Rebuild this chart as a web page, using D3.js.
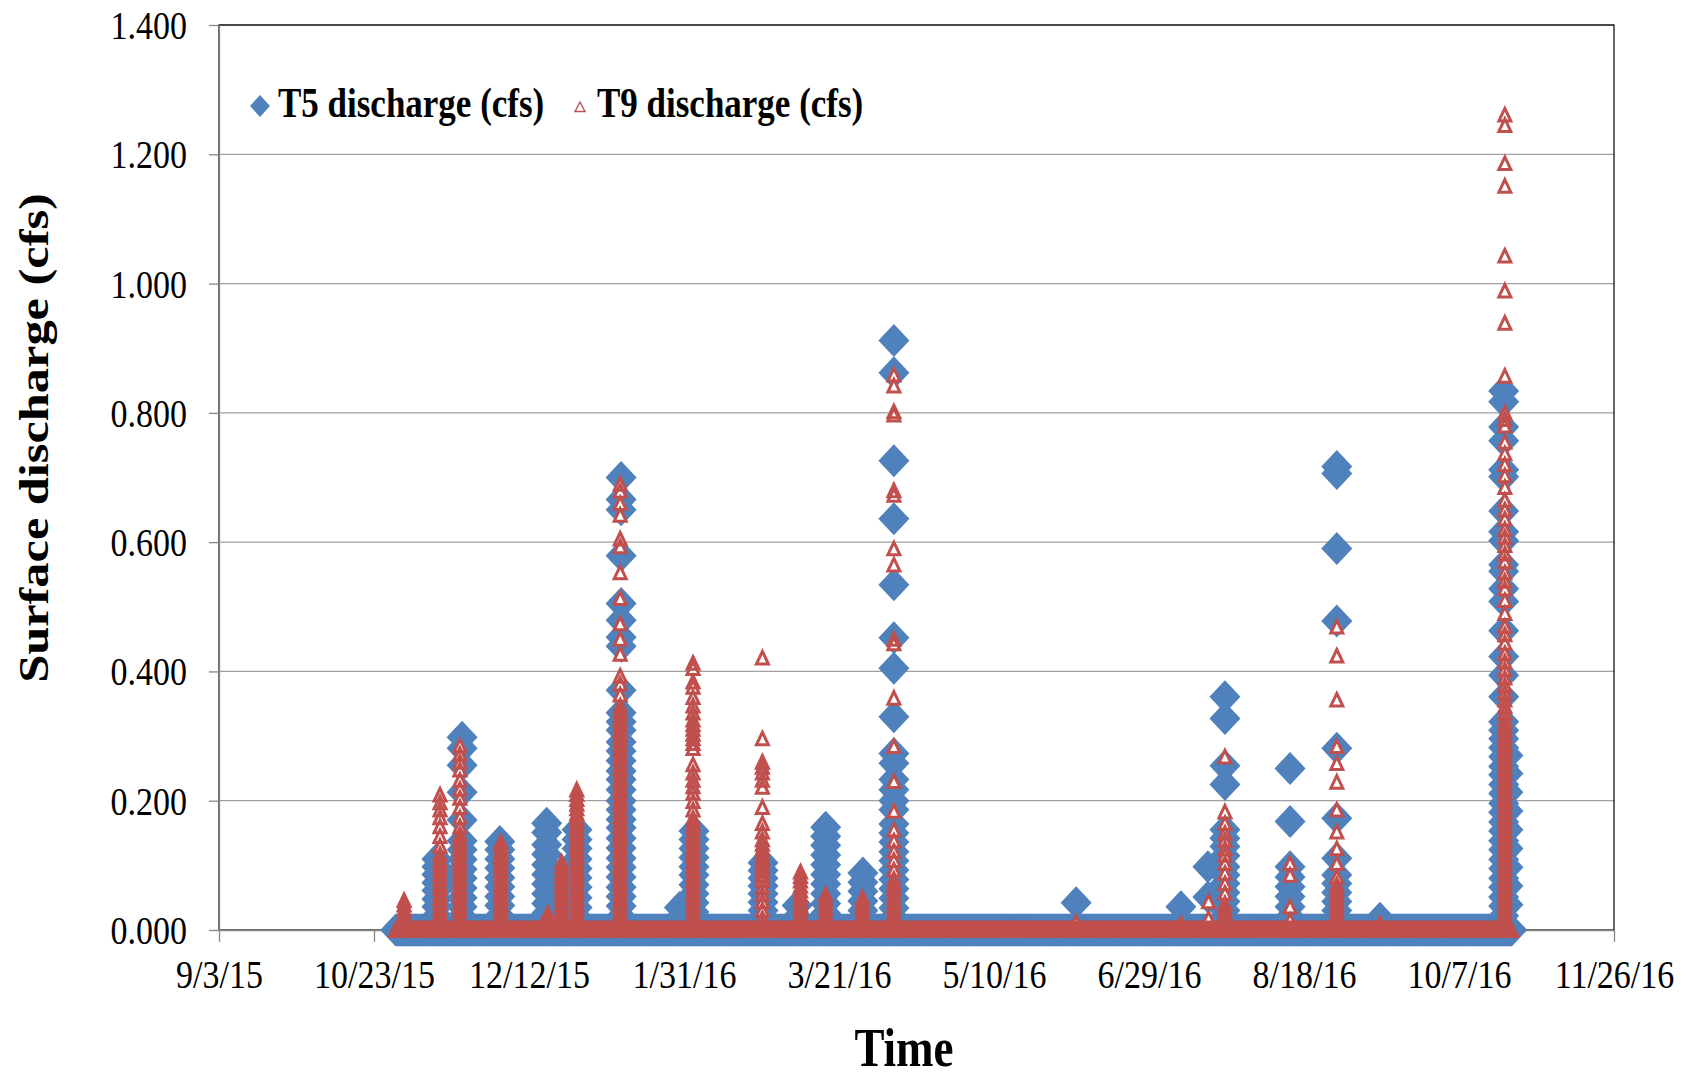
<!DOCTYPE html>
<head>
    <meta charset="utf-8">
    <title>Surface discharge T5 / T9</title>
    <style>
        body { margin: 0; background: #fff; }
        text { font-family: "Liberation Serif", "Times New Roman", serif; fill: #000; }
    </style>
</head>

<script src="https://d3js.org/d3.v7.min.js"></script>

<div id="my_dataviz"></div>

<script>

    // axis ticks
    var xTickLabels = ["9/3/15", "10/23/15", "12/12/15", "1/31/16", "3/21/16",
                       "5/10/16", "6/29/16", "8/18/16", "10/7/16", "11/26/16"];
    var yTickValues = [0, 0.2, 0.4, 0.6, 0.8, 1.0, 1.2, 1.4];

    // logger record: both flumes sit at 0 cfs between storms
    var recordStart = "2015-10-30T00",
        recordEnd = "2016-10-24T00",
        baseDischarge = 0;

    // storm readings: [time, values (cfs)]
    var t5Storms = [
        ["2015-11-12T07", [0.11, 0.098, 0.086, 0.073, 0.061, 0.048, 0.036, 0.022, 0.01]],
        ["2015-11-20T10", [0.298, 0.281, 0.255, 0.213, 0.17, 0.138, 0.124, 0.109, 0.094, 0.08, 0.065, 0.05, 0.036, 0.021]],
        ["2015-12-02T14", [0.137, 0.124, 0.11, 0.096, 0.081, 0.067, 0.052, 0.038, 0.022]],
        ["2015-12-17T17", [0.165, 0.151, 0.132, 0.117, 0.101, 0.086, 0.071, 0.056, 0.041, 0.026, 0.012]],
        ["2015-12-27T12", [0.155, 0.14, 0.126, 0.11, 0.095, 0.081, 0.066, 0.05, 0.035, 0.02]],
        ["2016-01-10T17", [0.7, 0.666, 0.65, 0.579, 0.505, 0.479, 0.453, 0.439, 0.371, 0.336, 0.322, 0.309, 0.291, 0.277,
                           0.262, 0.246, 0.233, 0.217, 0.2, 0.186, 0.171, 0.158, 0.142, 0.127, 0.111, 0.097, 0.082,
                           0.066, 0.052, 0.037, 0.021]],
        ["2016-01-29T12", [0.035, 0.018]],
        ["2016-02-03T05", [0.153, 0.14, 0.126, 0.112, 0.098, 0.085, 0.07, 0.056, 0.042, 0.028, 0.014]],
        ["2016-02-25T12", [0.104, 0.092, 0.08, 0.068, 0.056, 0.043, 0.03, 0.016]],
        ["2016-03-07T12", [0.038, 0.02]],
        ["2016-03-16T17", [0.159, 0.145, 0.131, 0.116, 0.101, 0.086, 0.071, 0.056, 0.041, 0.026, 0.012]],
        ["2016-03-28T17", [0.088, 0.074, 0.06, 0.045, 0.03, 0.015]],
        ["2016-04-07T17", [0.912, 0.862, 0.726, 0.636, 0.534, 0.452, 0.405, 0.33, 0.273, 0.258, 0.233, 0.217, 0.2,
                           0.186, 0.164, 0.15, 0.136, 0.121, 0.107, 0.093, 0.078, 0.064, 0.049, 0.034, 0.019]],
        ["2016-06-05T12", [0.042]],
        ["2016-07-09T07", [0.036]],
        ["2016-07-18T00", [0.098, 0.051]],
        ["2016-07-23T12", [0.361, 0.327, 0.254, 0.225, 0.155, 0.142, 0.129, 0.115, 0.098, 0.085, 0.072, 0.058, 0.044, 0.03, 0.015]],
        ["2016-08-13T12", [0.25, 0.168, 0.098, 0.082, 0.067, 0.052, 0.036, 0.02]],
        ["2016-08-28T14", [0.717, 0.706, 0.59, 0.478, 0.281, 0.173, 0.111, 0.085, 0.072, 0.058, 0.044, 0.03, 0.015]],
        ["2016-09-11T12", [0.018]],
        ["2016-10-21T10", [0.834, 0.817, 0.778, 0.757, 0.712, 0.701, 0.648, 0.616, 0.602, 0.565, 0.555, 0.528, 0.508,
                           0.463, 0.423, 0.394, 0.361, 0.322, 0.309, 0.296, 0.282, 0.268, 0.253, 0.24, 0.225, 0.211,
                           0.196, 0.182, 0.167, 0.153, 0.138, 0.124, 0.109, 0.095, 0.08, 0.066, 0.051, 0.037, 0.022]],
        ["2016-10-22T19", [0.27, 0.242, 0.213, 0.184, 0.155, 0.126, 0.097, 0.068, 0.039]]
    ];

    var t9Storms = [
        ["2015-11-01T17", [0.046, 0.039, 0.032, 0.025, 0.018, 0.011, 0.005]],
        ["2015-11-13T07", [0.209, 0.197, 0.186, 0.174, 0.16, 0.145, 0.13, 0.117, 0.108, 0.101, 0.093, 0.086, 0.079,
                           0.071, 0.064, 0.056, 0.049, 0.042, 0.034, 0.027, 0.02, 0.012, 0.005]],
        ["2015-11-19T17", [0.285, 0.272, 0.26, 0.248, 0.232, 0.218, 0.204, 0.19, 0.174, 0.16, 0.148, 0.14, 0.132, 0.125,
                           0.118, 0.11, 0.103, 0.096, 0.088, 0.081, 0.074, 0.066, 0.059, 0.052, 0.044, 0.037, 0.03,
                           0.022, 0.015, 0.008]],
        ["2015-12-02T22", [0.136, 0.129, 0.121, 0.114, 0.107, 0.1, 0.092, 0.085, 0.078, 0.07, 0.063, 0.056, 0.049,
                           0.041, 0.034, 0.027, 0.019, 0.012, 0.005]],
        ["2015-12-18T02", [0.026, 0.018, 0.01]],
        ["2015-12-22T12", [0.105, 0.098, 0.09, 0.083, 0.076, 0.068, 0.061, 0.054, 0.047, 0.039, 0.032, 0.025, 0.017, 0.01]],
        ["2015-12-27T10", [0.217, 0.21, 0.202, 0.195, 0.188, 0.18, 0.173, 0.166, 0.158, 0.151, 0.144, 0.136, 0.129,
                           0.122, 0.114, 0.107, 0.1, 0.092, 0.085, 0.078, 0.07, 0.063, 0.056, 0.048, 0.041, 0.034,
                           0.026, 0.019, 0.012, 0.005]],
        ["2016-01-10T10", [0.69, 0.679, 0.66, 0.642, 0.605, 0.593, 0.553, 0.513, 0.474, 0.45, 0.427, 0.393, 0.381,
                           0.364, 0.347, 0.339, 0.332, 0.324, 0.317, 0.309, 0.302, 0.295, 0.287, 0.28, 0.272, 0.265,
                           0.257, 0.25, 0.243, 0.235, 0.228, 0.22, 0.213, 0.205, 0.198, 0.191, 0.183, 0.176, 0.168,
                           0.161, 0.153, 0.146, 0.139, 0.131, 0.124, 0.116, 0.109, 0.101, 0.094, 0.087, 0.079, 0.072,
                           0.064, 0.057, 0.049, 0.042, 0.035, 0.027, 0.02, 0.012, 0.005]],
        ["2016-02-02T22", [0.413, 0.405, 0.384, 0.376, 0.36, 0.347, 0.336, 0.325, 0.318, 0.311, 0.303, 0.296, 0.289,
                           0.281, 0.256, 0.243, 0.232, 0.222, 0.212, 0.199, 0.186, 0.173, 0.165, 0.158, 0.15, 0.143,
                           0.136, 0.128, 0.121, 0.114, 0.106, 0.099, 0.092, 0.084, 0.077, 0.07, 0.062, 0.055, 0.048,
                           0.04, 0.033, 0.026, 0.018, 0.011, 0.004]],
        ["2016-02-25T07", [0.421, 0.296, 0.26, 0.252, 0.243, 0.232, 0.221, 0.19, 0.165, 0.152, 0.14, 0.133, 0.126,
                           0.119, 0.112, 0.105, 0.098, 0.091, 0.084, 0.077, 0.066, 0.055, 0.044, 0.031, 0.018, 0.008]],
        ["2016-03-08T14", [0.09, 0.083, 0.076, 0.068, 0.061, 0.054, 0.047, 0.039, 0.032, 0.025, 0.017, 0.01]],
        ["2016-03-16T17", [0.055, 0.048, 0.041, 0.034, 0.026, 0.019, 0.012, 0.005]],
        ["2016-03-28T14", [0.05, 0.043, 0.036, 0.029, 0.021, 0.014, 0.007]],
        ["2016-04-07T17", [0.859, 0.842, 0.802, 0.797, 0.68, 0.673, 0.59, 0.565, 0.45, 0.443, 0.359, 0.284, 0.23,
                           0.184, 0.155, 0.138, 0.122, 0.108, 0.093, 0.079, 0.072, 0.065, 0.057, 0.05, 0.043, 0.036,
                           0.028, 0.021, 0.014, 0.007]],
        ["2016-06-05T12", [0.012]],
        ["2016-07-09T07", [0.01]],
        ["2016-07-18T05", [0.044, 0.018]],
        ["2016-07-23T12", [0.268, 0.183, 0.165, 0.15, 0.139, 0.126, 0.116, 0.103, 0.088, 0.072, 0.057, 0.041, 0.034,
                           0.027, 0.02, 0.013, 0.006]],
        ["2016-08-13T12", [0.103, 0.085, 0.036, 0.015]],
        ["2016-08-28T14", [0.469, 0.424, 0.356, 0.284, 0.258, 0.229, 0.186, 0.152, 0.126, 0.103, 0.082, 0.07, 0.063,
                           0.055, 0.048, 0.041, 0.033, 0.026, 0.019, 0.011, 0.004]],
        ["2016-09-11T12", [0.01]],
        ["2016-10-21T19", [1.261, 1.245, 1.186, 1.151, 1.043, 0.989, 0.939, 0.857, 0.8, 0.79, 0.78, 0.755, 0.737,
                           0.72, 0.703, 0.685, 0.665, 0.65, 0.636, 0.62, 0.608, 0.595, 0.582, 0.57, 0.553, 0.54,
                           0.528, 0.51, 0.49, 0.47, 0.457, 0.444, 0.428, 0.415, 0.403, 0.39, 0.378, 0.367, 0.356,
                           0.346, 0.336, 0.326, 0.317, 0.31, 0.302, 0.295, 0.287, 0.28, 0.273, 0.265, 0.258, 0.25,
                           0.243, 0.236, 0.228, 0.221, 0.213, 0.206, 0.199, 0.191, 0.184, 0.176, 0.169, 0.162, 0.154,
                           0.147, 0.139, 0.132, 0.125, 0.117, 0.11, 0.102, 0.095, 0.088, 0.08, 0.073, 0.065, 0.058,
                           0.051, 0.043, 0.036, 0.028, 0.021, 0.014, 0.006]]
    ];

    var blue = "#4F81BD", red = "#C0504D";

    // plot area
    var margin = {top: 25, right: 80, bottom: 149, left: 219},
        width = 1694 - margin.left - margin.right,
        height = 1079 - margin.top - margin.bottom;

    var svg = d3.select("#my_dataviz")
      .append("svg")
      .attr("width", 1694)
      .attr("height", 1079)
      .append("g")
      .attr("transform", "translate(" + margin.left + "," + margin.top + ")");

    var parseTime = d3.utcParse("%Y-%m-%dT%H"),
        parseTick = d3.utcParse("%m/%d/%y");
    var tickDates = xTickLabels.map(parseTick);

    var x = d3.scaleUtc()
      .domain([tickDates[0], tickDates[tickDates.length - 1]])
      .range([0, width]);
    var y = d3.scaleLinear()
      .domain([0, 1.4])
      .range([height, 0]);

    // gridlines
    svg.append("g")
      .selectAll("line")
      .data(yTickValues.slice(1))
      .join("line")
        .attr("x1", 0)
        .attr("x2", width)
        .attr("y1", function (d) { return y(d); })
        .attr("y2", function (d) { return y(d); })
        .attr("stroke", "#a0a0a0")
        .attr("stroke-width", 1.3);

    // plot border (top and right show black)
    svg.append("rect")
      .attr("width", width)
      .attr("height", height)
      .attr("fill", "none")
      .attr("stroke", "#000")
      .attr("stroke-width", 1.2);

    // X axis
    var xAxis = svg.append("g")
      .attr("transform", "translate(0," + height + ")")
      .call(d3.axisBottom(x).tickValues(tickDates).tickFormat(d3.utcFormat("%-m/%-d/%y"))
            .tickSize(12).tickSizeOuter(0));
    xAxis.attr("font-family", null).attr("font-size", null);
    xAxis.select(".domain").attr("stroke", "#868686").attr("stroke-width", 1.3);
    xAxis.selectAll(".tick line").attr("stroke", "#868686").attr("stroke-width", 1.3);
    xAxis.selectAll(".tick text")
      .attr("y", 0)
      .attr("dy", null)
      .attr("transform", "translate(0,58) scale(1,1.2)")
      .style("font-size", "34px");

    // Y axis
    var yAxis = svg.append("g")
      .call(d3.axisLeft(y).tickValues(yTickValues).tickFormat(d3.format(".3f"))
            .tickSize(10).tickSizeOuter(0));
    yAxis.attr("font-family", null).attr("font-size", null);
    yAxis.select(".domain").attr("stroke", "#868686").attr("stroke-width", 1.3);
    yAxis.selectAll(".tick line").attr("stroke", "#868686").attr("stroke-width", 1.3);
    yAxis.selectAll(".tick text")
      .attr("x", 0)
      .attr("dy", "0.33em")
      .attr("transform", "translate(-32,0) scale(1,1.2)")
      .style("font-size", "34px");

    // readings
    function stormReadings(storms) {
        var out = [];
        storms.forEach(function (s) {
            var t = parseTime(s[0]);
            s[1].forEach(function (v) { out.push({t: t, v: v}); });
        });
        return out;
    }
    var baseTimes = d3.utcHour.every(6).range(parseTime(recordStart), d3.utcHour.offset(parseTime(recordEnd), 1));
    var baseReadings = baseTimes.map(function (t) { return {t: t, v: baseDischarge}; });
    var t5 = baseReadings.concat(stormReadings(t5Storms));
    var t9 = baseReadings.concat(stormReadings(t9Storms));

    var diamond = "M0,-16.5L15.5,0L0,16.5L-15.5,0Z",
        triangle = "M0,-6.4L6,6.2L-6,6.2Z";
    function place(d) { return "translate(" + x(d.t) + "," + y(d.v) + ")"; }

    // T5 diamonds
    svg.append("g")
      .selectAll("path")
      .data(t5)
      .join("path")
        .attr("transform", place)
        .attr("d", diamond)
        .attr("fill", blue);

    // T9 triangles: white insides first, then outlines
    svg.append("g")
      .selectAll("path")
      .data(t9)
      .join("path")
        .attr("transform", place)
        .attr("d", triangle)
        .attr("fill", "#fff");
    svg.append("g")
      .selectAll("path")
      .data(t9)
      .join("path")
        .attr("transform", place)
        .attr("d", triangle)
        .attr("fill", "none")
        .attr("stroke", red)
        .attr("stroke-width", 3);

    // legend
    var legend = svg.append("g").attr("transform", "translate(" + (-margin.left) + "," + (-margin.top) + ")");
    legend.append("path")
      .attr("transform", "translate(260,106)")
      .attr("d", "M0,-11L10,0L0,11L-10,0Z")
      .attr("fill", blue);
    legend.append("text")
      .attr("transform", "translate(278,117) scale(1,1.2)")
      .style("font-size", "35px")
      .style("font-weight", "bold")
      .text("T5 discharge (cfs)");
    legend.append("path")
      .attr("transform", "translate(580,107)")
      .attr("d", "M0,-5L5,4.5L-5,4.5Z")
      .attr("fill", "#fff")
      .attr("stroke", red)
      .attr("stroke-width", 1.4);
    legend.append("text")
      .attr("transform", "translate(597,117) scale(1,1.2)")
      .style("font-size", "35px")
      .style("font-weight", "bold")
      .text("T9 discharge (cfs)");

    // axis titles
    legend.append("text")
      .attr("transform", "translate(48,438) scale(1,1.2) rotate(-90)")
      .attr("text-anchor", "middle")
      .style("font-size", "42px")
      .style("font-weight", "bold")
      .text("Surface discharge (cfs)");
    legend.append("text")
      .attr("transform", "translate(904,1066) scale(1,1.2)")
      .attr("text-anchor", "middle")
      .style("font-size", "45px")
      .style("font-weight", "bold")
      .text("Time");

</script>
